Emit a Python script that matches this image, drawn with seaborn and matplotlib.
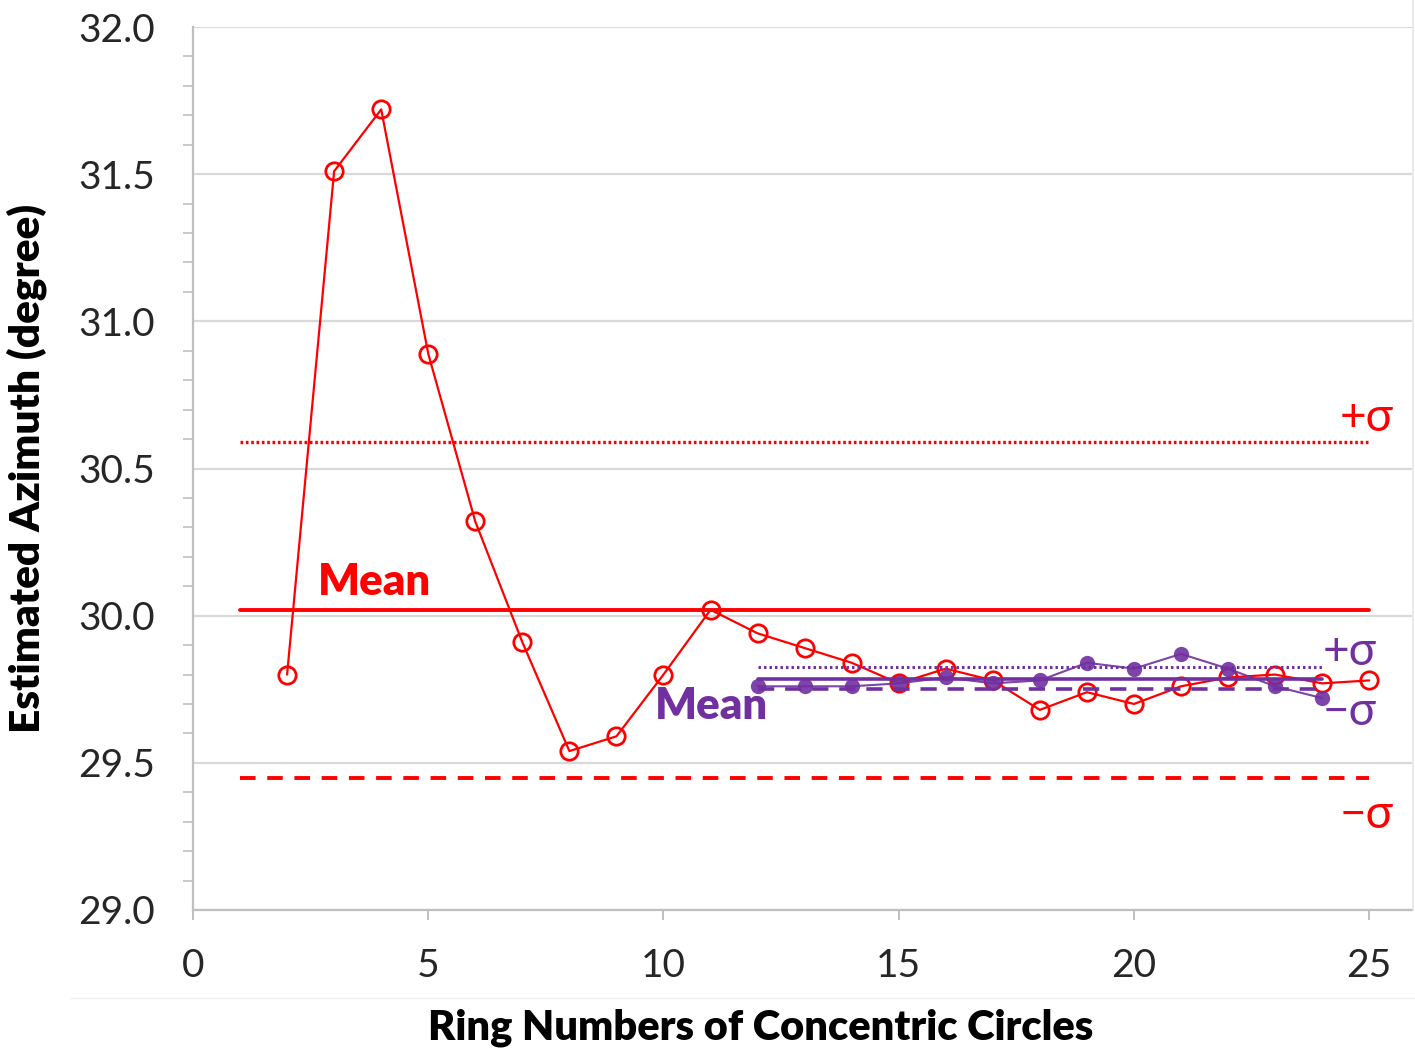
import matplotlib
matplotlib.use("Agg")
import matplotlib.pyplot as plt
from matplotlib.lines import Line2D
from matplotlib.ticker import MultipleLocator, FormatStrFormatter
import numpy as np
import pandas as pd
import seaborn as sns

# Estimated azimuth per ring, full ring range
rings_all = [2, 3, 4, 5, 6, 7, 8, 9, 10, 11, 12, 13, 14, 15, 16, 17, 18, 19, 20, 21, 22, 23, 24, 25]
azimuth_all = [29.80, 31.51, 31.72, 30.89, 30.32, 29.91, 29.54, 29.59, 29.80, 30.02, 29.94, 29.89,
               29.84, 29.77, 29.82, 29.78, 29.68, 29.74, 29.70, 29.76, 29.79, 29.80, 29.77, 29.78]

# Estimated azimuth per ring, outer rings subset
rings_outer = [12, 13, 14, 15, 16, 17, 18, 19, 20, 21, 22, 23, 24]
azimuth_outer = [29.76, 29.76, 29.76, 29.77, 29.79, 29.77, 29.78, 29.84, 29.82, 29.87, 29.82, 29.76, 29.72]

# Statistics: mean, +sigma, -sigma
stats_all = [30.02, 30.59, 29.45]
stats_all_span = [1, 25]
stats_outer = [29.785, 29.826, 29.75]
stats_outer_span = [12, 24]

RED = "#FF0000"
PURPLE = "#7030A0"
GRID = "#D9D9D9"
AXIS = "#BFBFBF"
TEXT = "#262626"

sns.set_style("white")
plt.rcParams["font.family"] = ["Lato", "DejaVu Sans"]

fig = plt.figure(figsize=(14.15, 10.5), dpi=100)
ax = fig.add_axes([193 / 1415, 1 - 910 / 1050, (1412 - 193) / 1415, (910 - 27) / 1050])

df_all = pd.DataFrame({"ring": rings_all, "azimuth": azimuth_all})
df_outer = pd.DataFrame({"ring": rings_outer, "azimuth": azimuth_outer})

# statistic lines: solid mean, dotted +sigma, dashed -sigma
ls_styles = ["-", (0, (0.8, 0.8)), (0, (4, 3))]
widths_all = [2.8, 2.4, 2.8]
for val, ls, lw in zip(stats_all, ls_styles, widths_all):
    ax.plot(stats_all_span, [val, val], color=RED, lw=lw, ls=ls, zorder=3)

sns.lineplot(data=df_all, x="ring", y="azimuth", ax=ax, color=RED, lw=1.6,
             marker="o", markersize=12.5, markerfacecolor="none", markeredgecolor=RED,
             markeredgewidth=2.0, zorder=4)

widths_outer = [2.6, 2.2, 2.6]
ls_outer = ["-", (0, (0.8, 1.0)), (0, (4.5, 3))]
for val, ls, lw in zip(stats_outer, ls_outer, widths_outer):
    ax.plot(stats_outer_span, [val, val], color=PURPLE, lw=lw, ls=ls, zorder=5)

sns.lineplot(data=df_outer, x="ring", y="azimuth", ax=ax, color=PURPLE, lw=1.5, alpha=0.9,
             marker="o", markersize=11, markerfacecolor=PURPLE, markeredgecolor=PURPLE,
             markeredgewidth=0, zorder=6)

# annotations
ax.text(2.66, 30.115, "Mean", color=RED, fontsize=31.5, fontweight="heavy", ha="left", va="center", zorder=7)
ax.text(24.38, 30.672, "+σ", color=RED, fontsize=33, ha="left", va="center", zorder=7)
ax.text(24.38, 29.323, "−σ", color=RED, fontsize=33, ha="left", va="center", zorder=7)
ax.text(9.82, 29.693, "Mean", color=PURPLE, fontsize=31.5, fontweight="heavy", ha="left", va="center", zorder=7)
ax.text(24.0, 29.877, "+σ", color=PURPLE, fontsize=33, ha="left", va="center", zorder=7)
ax.text(24.0, 29.673, "−σ", color=PURPLE, fontsize=33, ha="left", va="center", zorder=7)

ax.set_xlim(0, 25.91)
ax.set_ylim(29.0, 32.0)
ax.xaxis.set_major_locator(MultipleLocator(5))
ax.yaxis.set_major_locator(MultipleLocator(0.5))
ax.yaxis.set_minor_locator(MultipleLocator(0.1))
ax.yaxis.set_major_formatter(FormatStrFormatter("%.1f"))

ax.grid(axis="y", which="major", color=GRID, lw=1.6, zorder=0)
ax.set_axisbelow(True)

for side in ["top", "right"]:
    ax.spines[side].set_visible(False)
for side in ["left", "bottom"]:
    ax.spines[side].set_color(AXIS)
    ax.spines[side].set_linewidth(1.6)

ax.tick_params(axis="y", which="major", direction="out", length=9.5, width=1.4, color=AXIS,
               labelsize=28, labelcolor=TEXT, pad=18)
ax.tick_params(axis="y", which="minor", direction="out", length=7, width=1.2, color=AXIS, left=True)
ax.tick_params(axis="x", which="major", direction="out", length=7.5, width=1.4, color=AXIS,
               labelsize=28, labelcolor=TEXT, pad=20, bottom=True)

ax.set_xlabel("Ring Numbers of Concentric Circles", fontsize=30, fontweight="heavy", color="black")
ax.xaxis.set_label_coords(0.466, -0.111)
ax.set_ylabel("Estimated Azimuth (degree)", fontsize=30.5, fontweight="heavy", color="black", labelpad=22)

# thin right border and faint separator line
fig.add_artist(Line2D([1413 / 1415, 1413 / 1415], [1.0, 1 - 910 / 1050],
                      transform=fig.transFigure, color="#E6E6E6", lw=1.2))
fig.add_artist(Line2D([70 / 1415, 1.0], [1 - 998 / 1050, 1 - 998 / 1050],
                      transform=fig.transFigure, color="#F2F2F2", lw=1.0))

fig.savefig("out.png", dpi=100, facecolor="white")
